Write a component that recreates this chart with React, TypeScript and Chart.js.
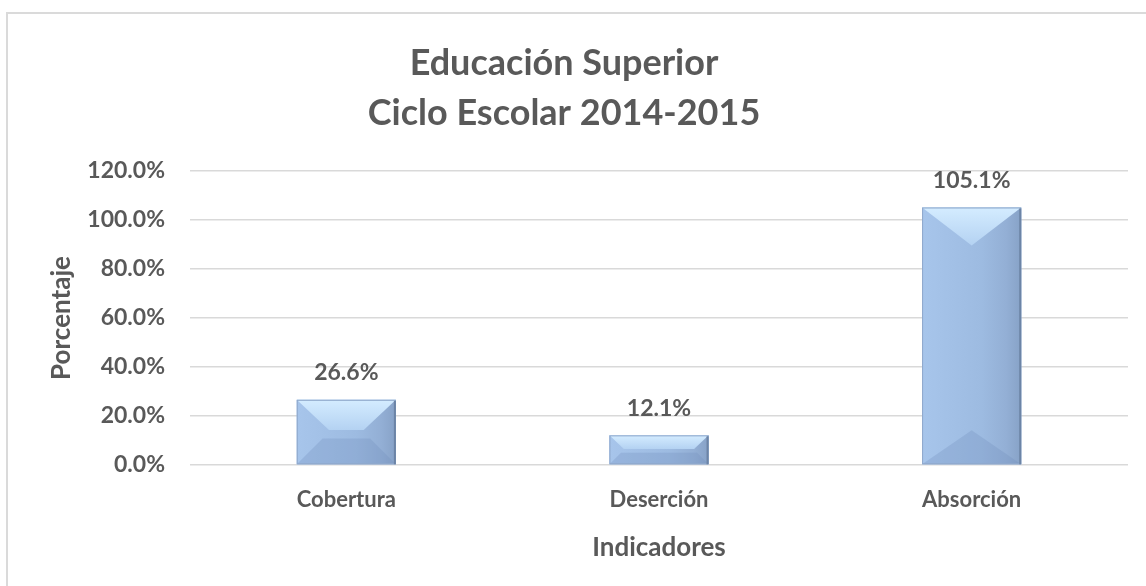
import React, { useEffect, useRef } from "react";
import { Chart, registerables } from "chart.js";

Chart.register(...registerables);

const titleLines = ["Educación Superior", "Ciclo Escolar 2014-2015"];
const categories = ["Cobertura", "Deserción", "Absorción"];
const values = [26.6, 12.1, 105.1];
const yMin = 0;
const yMax = 120;
const yStep = 20;
const xTitle = "Indicadores";
const yTitle = "Porcentaje";

const FONT = "Lato, 'Open Sans', sans-serif";
const TEXT = "#595959";

const bevelPlugin = {
  id: "bevel",
  afterDatasetsDraw(chart: any) {
    const ctx = chart.ctx;
    const meta = chart.getDatasetMeta(0);
    meta.data.forEach((bar: any) => {
      const w = bar.width;
      const L = bar.x - w / 2;
      const R = bar.x + w / 2;
      const T = Math.min(bar.y, bar.base);
      const B = Math.max(bar.y, bar.base);
      const h = B - T;
      const dx = Math.min(w / 2, h / 2);
      const dyT = Math.min(h * 0.47, 38);
      const dyB = Math.min(h * 0.4, 34);
      const dxB = Math.min(w / 2, h * 0.4);
      ctx.save();
      // body: horizontal gradient (left light, right darker)
      const hg = ctx.createLinearGradient(L, 0, R, 0);
      hg.addColorStop(0, "#a7c5eb");
      hg.addColorStop(0.3, "#a2c0e6");
      hg.addColorStop(0.6, "#9dbbe1");
      hg.addColorStop(0.85, "#93afd5");
      hg.addColorStop(1, "#87a2c7");
      ctx.fillStyle = hg;
      ctx.fillRect(L, T, w, h);
      // bottom facet
      ctx.beginPath();
      ctx.moveTo(L, B);
      ctx.lineTo(R, B);
      ctx.lineTo(R - dxB, B - dyB);
      ctx.lineTo(L + dxB, B - dyB);
      ctx.closePath();
      ctx.fillStyle = "rgba(110,140,185,0.28)";
      ctx.fill();
      // top facet
      const g = ctx.createLinearGradient(0, T, 0, T + dyT);
      g.addColorStop(0, "#d4ecff");
      g.addColorStop(1, "#b4d2f2");
      ctx.beginPath();
      ctx.moveTo(L, T);
      ctx.lineTo(R, T);
      ctx.lineTo(R - dx, T + dyT);
      ctx.lineTo(L + dx, T + dyT);
      ctx.closePath();
      ctx.fillStyle = g;
      ctx.fill();
      // edges
      ctx.strokeStyle = "#8fa8cb";
      ctx.lineWidth = 1;
      ctx.strokeRect(L + 0.5, T + 0.5, w - 1, h - 1);
      ctx.fillStyle = "#6c84a6";
      ctx.fillRect(R - 2, T + 1, 2, h - 1);
      ctx.restore();
    });
  },
};

const labelPlugin = {
  id: "valueLabels",
  afterDatasetsDraw(chart: any) {
    const ctx = chart.ctx;
    const meta = chart.getDatasetMeta(0);
    ctx.save();
    ctx.font = `bold 23px ${FONT}`;
    ctx.fillStyle = TEXT;
    ctx.textAlign = "center";
    ctx.textBaseline = "middle";
    meta.data.forEach((bar: any, i: number) => {
      ctx.fillText(values[i].toFixed(1) + "%", bar.x, bar.y - 27);
    });
    ctx.restore();
  },
};

export default function App() {
  const ref = useRef<HTMLCanvasElement>(null);
  useEffect(() => {
    if (!ref.current) return;
    const chart = new Chart(ref.current, {
      type: "bar",
      data: {
        labels: categories,
        datasets: [
          {
            data: values,
            backgroundColor: "#9dbbe1",
            borderWidth: 0,
            barPercentage: 0.317,
            categoryPercentage: 1,
          },
        ],
      },
      options: {
        responsive: false,
        animation: false,
        layout: { padding: { left: 0, right: 18, top: 0, bottom: 0 } },
        plugins: {
          legend: { display: false },
          tooltip: { enabled: false },
          title: {
            display: true,
            text: titleLines,
            color: TEXT,
            font: { family: FONT, size: 36, weight: "bold", lineHeight: "50px" } as any,
            padding: { top: 38, bottom: 33 },
          },
        },
        scales: {
          x: {
            grid: { display: false },
            border: { display: false },
            ticks: {
              color: TEXT,
              font: { family: FONT, size: 22, weight: "bold" },
              padding: 14,
            },
            title: {
              display: true,
              text: xTitle,
              color: TEXT,
              font: { family: FONT, size: 26, weight: "bold" },
              padding: { top: 0, bottom: 23 },
            },
            afterFit: (scale: any) => {
              scale.height = 121;
            },
          },
          y: {
            min: yMin,
            max: yMax,
            grid: { color: "#d9d9d9", lineWidth: 1.5, drawTicks: false },
            border: { display: false },
            ticks: {
              stepSize: yStep,
              color: TEXT,
              font: { family: FONT, size: 23, weight: "bold" },
              padding: 25,
              callback: (v: any) => Number(v).toFixed(1) + "%",
            },
            title: {
              display: true,
              text: yTitle,
              color: TEXT,
              font: { family: FONT, size: 26, weight: "bold" },
              padding: { top: 46, bottom: 0 },
            },
            afterFit: (scale: any) => {
              scale.width = 190;
            },
          },
        },
      },
      plugins: [bevelPlugin, labelPlugin],
    });
    return () => chart.destroy();
  }, []);

  return (
    <div
      style={{
        position: "fixed",
        left: 0,
        top: 0,
        width: 1146,
        height: 586,
        background: "#fff",
        overflow: "hidden",
      }}
    >
      <div
        style={{
          position: "absolute",
          left: 6,
          top: 12,
          width: 1300,
          height: 800,
          borderLeft: "2px solid #dadada",
          borderTop: "2px solid #dadada",
        }}
      />
      <canvas
        ref={ref}
        width={1146}
        height={586}
        style={{ position: "absolute", left: 0, top: 0, width: 1146, height: 586 }}
      />
    </div>
  );
}
